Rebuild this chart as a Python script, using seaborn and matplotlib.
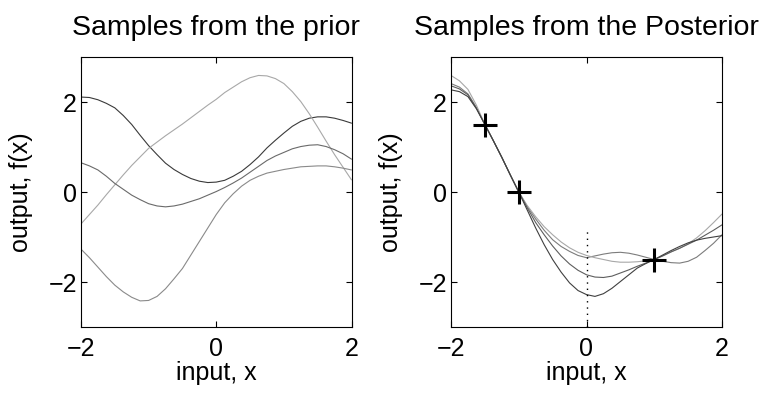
import matplotlib
matplotlib.use('Agg')
import pandas as pd
import matplotlib.pyplot as plt
import seaborn as sns

# sample grid (input x)
x_grid = [-2.0, -1.875, -1.75, -1.625, -1.5, -1.375, -1.25, -1.125, -1.0,
          -0.875, -0.75, -0.625, -0.5, -0.375, -0.25, -0.125, 0.0,
          0.125, 0.25, 0.375, 0.5, 0.625, 0.75, 0.875, 1.0,
          1.125, 1.25, 1.375, 1.5, 1.625, 1.75, 1.875, 2.0]

# prior samples
prior_a = [2.11, 2.10, 2.05, 1.97, 1.87, 1.70, 1.50, 1.26, 1.03,
           0.83, 0.64, 0.50, 0.39, 0.30, 0.24, 0.21, 0.22,
           0.26, 0.35, 0.46, 0.61, 0.78, 0.98, 1.15, 1.31,
           1.46, 1.57, 1.64, 1.67, 1.67, 1.64, 1.59, 1.53]
prior_b = [-0.71, -0.50, -0.29, -0.06, 0.16, 0.38, 0.59, 0.78, 0.97,
           1.11, 1.25, 1.38, 1.51, 1.65, 1.79, 1.93, 2.06,
           2.21, 2.33, 2.45, 2.54, 2.59, 2.58, 2.52, 2.41,
           2.23, 2.01, 1.74, 1.44, 1.13, 0.83, 0.55, 0.27]
prior_c = [0.65, 0.58, 0.49, 0.35, 0.19, 0.06, -0.07, -0.17, -0.26,
           -0.31, -0.33, -0.31, -0.27, -0.21, -0.15, -0.07, 0.01,
           0.10, 0.20, 0.31, 0.44, 0.57, 0.70, 0.80, 0.88,
           0.96, 1.01, 1.04, 1.05, 1.01, 0.94, 0.85, 0.73]
prior_d = [-1.27, -1.46, -1.67, -1.88, -2.07, -2.22, -2.34, -2.42, -2.41,
           -2.32, -2.15, -1.93, -1.70, -1.40, -1.10, -0.80, -0.50,
           -0.24, -0.04, 0.13, 0.26, 0.35, 0.42, 0.46, 0.50,
           0.53, 0.56, 0.57, 0.58, 0.58, 0.56, 0.53, 0.49]
prior_colors = ['#3a3a3a', '#a8a8a8', '#6a6a6a', '#8a8a8a']

# posterior samples
post_1 = [2.41, 2.33, 2.18, 1.88, 1.50, 1.14, 0.77, 0.38, 0.0,
          -0.32, -0.60, -0.85, -1.06, -1.21, -1.32, -1.41, -1.46,
          -1.42, -1.38, -1.35, -1.34, -1.36, -1.40, -1.45, -1.50,
          -1.54, -1.57, -1.58, -1.54, -1.45, -1.30, -1.14, -0.95]
post_2 = [2.59, 2.47, 2.28, 1.93, 1.50, 1.14, 0.77, 0.38, 0.0,
          -0.30, -0.55, -0.77, -0.95, -1.11, -1.24, -1.34, -1.41,
          -1.46, -1.50, -1.54, -1.56, -1.56, -1.55, -1.53, -1.50,
          -1.42, -1.33, -1.25, -1.15, -1.02, -0.86, -0.68, -0.49]
post_3 = [2.36, 2.29, 2.16, 1.86, 1.50, 1.14, 0.77, 0.38, 0.0,
          -0.35, -0.68, -0.95, -1.20, -1.42, -1.60, -1.74, -1.84,
          -1.89, -1.90, -1.87, -1.80, -1.73, -1.65, -1.58, -1.50,
          -1.42, -1.33, -1.25, -1.16, -1.07, -0.96, -0.85, -0.73]
post_4 = [2.27, 2.23, 2.12, 1.85, 1.50, 1.14, 0.77, 0.38, 0.0,
          -0.40, -0.80, -1.17, -1.50, -1.78, -2.02, -2.19, -2.28,
          -2.32, -2.26, -2.14, -1.99, -1.84, -1.69, -1.59, -1.50,
          -1.40, -1.30, -1.21, -1.13, -1.07, -1.03, -1.00, -0.97]
post_colors = ['#7c7c7c', '#a8a8a8', '#5e5e5e', '#404040']

# observations
obs_x = [-1.5, -1.0, 1.0]
obs_y = [1.5, 0.0, -1.5]

# dotted interval at x = 0
interval_x = [0.0, 0.0]
interval_y = [-3.0, -0.82]


def long_form(curves):
    rows = []
    for i, vals in enumerate(curves):
        for xv, fv in zip(x_grid, vals):
            rows.append({'x': xv, 'f': fv, 'sample': i})
    return pd.DataFrame(rows)


prior_df = long_form([prior_a, prior_b, prior_c, prior_d])
post_df = long_form([post_1, post_2, post_3, post_4])

sns.set_style('ticks')
plt.rcParams['font.family'] = ['Liberation Sans', 'DejaVu Sans']
plt.rcParams['text.color'] = 'black'
plt.rcParams['axes.labelcolor'] = 'black'

fig = plt.figure(figsize=(7.69, 3.97), dpi=100)
ax1 = fig.add_axes([81 / 769, 70 / 397, 270.5 / 769, 270 / 397])
ax2 = fig.add_axes([451 / 769, 70 / 397, 271 / 769, 270 / 397])

sns.lineplot(data=prior_df, x='x', y='f', hue='sample', palette=prior_colors,
             estimator=None, sort=False, legend=False, linewidth=0.8, ax=ax1)
sns.lineplot(data=post_df, x='x', y='f', hue='sample', palette=post_colors,
             estimator=None, sort=False, legend=False, linewidth=0.8, ax=ax2)
ax2.plot(interval_x, interval_y, color='black', linestyle=(0, (1, 3.5)),
         linewidth=1)
sns.scatterplot(x=obs_x, y=obs_y, marker='+', s=280, color='black',
                linewidth=2.2, ax=ax2, zorder=5)

titles = ['Samples from the prior', 'Samples from the Posterior']
for ax, title in zip([ax1, ax2], titles):
    ax.set_xlim(-2, 2)
    ax.set_ylim(-3, 3)
    ax.set_xticks([-2, 0, 2])
    ax.set_yticks([-2, 0, 2])
    ax.tick_params(direction='in', length=4, width=0.8, top=True, right=True,
                   labelsize=18, colors='black')
    ax.tick_params(axis='x', pad=7)
    ax.tick_params(axis='y', pad=3)
    for sp in ax.spines.values():
        sp.set_visible(True)
        sp.set_color('black')
        sp.set_linewidth(0.8)
    ax.set_title(title, fontsize=20.5, pad=16, color='black')
    ax.set_xlabel('input, x', fontsize=18, labelpad=0)
    ax.set_ylabel('output, f(x)', fontsize=18, labelpad=11)

fig.savefig('out.png', dpi=100)
plt.close(fig)
